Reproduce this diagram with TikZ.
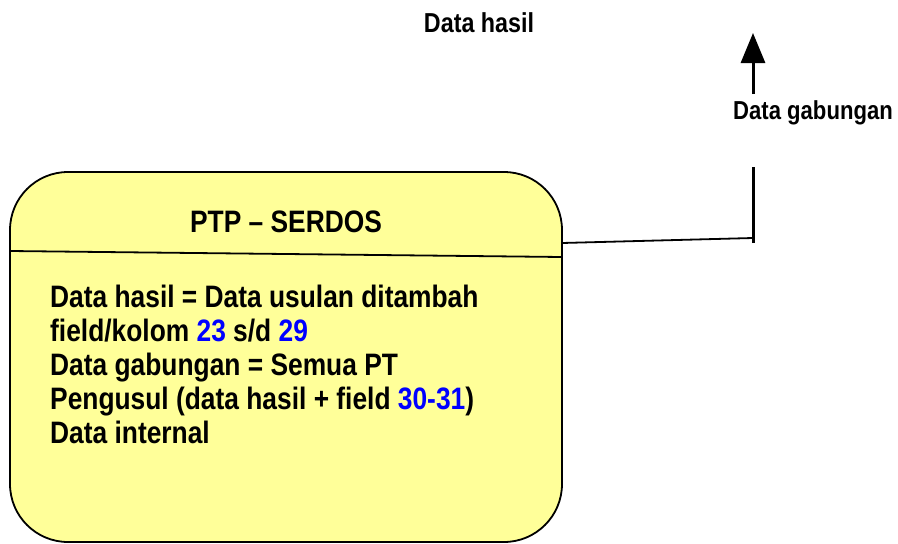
\documentclass[tikz,border=0pt]{standalone}
\usepackage{fontspec}
\setmainfont{Liberation Sans}[FakeStretch=0.85]
\usetikzlibrary{arrows.meta}
\definecolor{boxfill}{RGB}{255,255,153}
\definecolor{numblue}{RGB}{0,0,255}
\tikzset{
  boxstyle/.style={draw=black, line width=1.8pt, fill=boxfill, rounded corners=58pt,
    minimum width=552pt, minimum height=370pt, inner sep=0pt},
  bodytext/.style={anchor=base west, font=\bfseries\fontsize{31}{34}\selectfont, inner sep=0pt},
  titletext/.style={anchor=base, font=\bfseries\fontsize{31}{34}\selectfont, inner sep=0pt},
  labeltext/.style={anchor=base, font=\bfseries\fontsize{26}{28}\selectfont, inner sep=0pt},
  thinline/.style={line width=1.8pt},
  thickline/.style={line width=3pt},
  flowarrow/.style={line width=3pt, -{Triangle[length=30pt,width=24pt]}}
}
\newcommand{\nb}[1]{\textcolor{numblue}{#1}}
\begin{document}
\begin{tikzpicture}[x=1pt,y=-1pt]
\useasboundingbox (0,0) rectangle (898,544);
\node[boxstyle] (box) at (286,357) {};
\coordinate (dl) at (10,251);
\coordinate (dr) at (562,257);
\draw[thinline] (dl) -- (dr);
\node[titletext] (title) at (286,232) {PTP – SERDOS};
\node[bodytext] (l1) at (50,307) {Data hasil = Data usulan ditambah};
\node[bodytext] (l2) at (50,341) {field/kolom \nb{23} s/d \nb{29}};
\node[bodytext] (l3) at (50,375) {Data gabungan = Semua PT};
\node[bodytext] (l4) at (50,409) {Pengusul (data hasil + field \nb{30-31})};
\node[bodytext] (l5) at (50,443) {Data internal};
\node[labeltext, font=\bfseries\fontsize{27.4}{28}\selectfont] (hasil) at (479,32) {Data hasil};
\node[labeltext] (gab) at (813,119) {Data gabungan};
\coordinate (cstart) at (562,243);
\coordinate (junc) at (753,238);
\coordinate (vtop) at (753,167);
\coordinate (vbot) at (753,243);
\coordinate (abot) at (753,94);
\coordinate (atip) at (753,33);
\draw[thinline] (cstart) -- (junc);
\draw[thickline] (vbot) -- (vtop);
\draw[flowarrow] (abot) -- (atip);
\end{tikzpicture}
\end{document}
